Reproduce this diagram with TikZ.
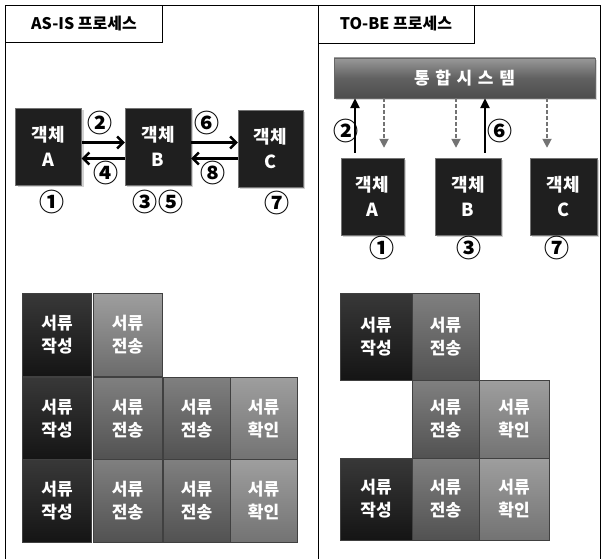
\documentclass[tikz,border=0pt]{standalone}
\usepackage{fontspec}
\setmainfont{Noto Sans CJK KR}
\usetikzlibrary{arrows.meta}
\usetikzlibrary{shadows}

\tikzset{
  obj/.style={fill=black!88, draw=black!55, minimum width=66pt, minimum height=77pt,
    text=white, align=center, inner sep=0pt, font=\fontsize{18}{25}\selectfont\bfseries,
    drop shadow={shadow xshift=2pt, shadow yshift=-2pt, fill=black!35}},
  num/.style={font=\fontsize{25}{25}\selectfont\bfseries, inner sep=0pt},
  title/.style={font=\fontsize{16}{16}\selectfont\bfseries},
  cell/.style={minimum width=69pt, minimum height=83pt, text=white, align=center,
    draw=black!75, inner sep=0pt, font=\fontsize{17}{23}\selectfont\bfseries},
  writecell/.style={cell, top color=black!78, bottom color=black!92},
  sendcell/.style={cell, top color=black!50, bottom color=black!68},
  checkcell/.style={cell, top color=black!38, bottom color=black!55},
  flow/.style={line width=2.6pt, -{Straight Barb[length=6pt,width=12pt,line width=2.4pt]}},
  uplink/.style={line width=2.4pt, -{Triangle[length=10pt,width=9pt]}},
  downlink/.style={line width=1.8pt, black!55, dash pattern=on 4pt off 2pt,
    -{Triangle[length=9pt,width=9pt]}}
}

\begin{document}
\begin{tikzpicture}[x=1pt,y=-1pt]
    \useasboundingbox (0,0) rectangle (604,559);

    %frame
    \draw [line width=0.8pt] (5,559) -- (5,5) -- (600,5) -- (600,559);
    \draw [line width=0.8pt] (318,5) -- (318,559);
    \draw [line width=0.6pt] (5,42) -| (162,5);
    \draw [line width=0.6pt] (318,43) -| (474,5);
    \node [title] (asTitle) at (84,24) {AS-IS 프로세스};
    \node [title] (tbTitle) at (396,24) {TO-BE 프로세스};

    %AS-IS objects
    \node [obj] (asA) at (48.5,146.5) {객체\\A};
    \node [obj] (asB) at (158,146.5) {객체\\B};
    \node [obj, minimum width=65pt] (asC) at (270.5,148.5) {객체\\C};

    \draw [flow] ([yshift=4pt]asA.east) -- ([yshift=4pt]asB.west);
    \draw [flow] ([yshift=-12pt]asB.west) -- ([yshift=-12pt]asA.east);
    \draw [flow] ([yshift=4pt]asB.east) -- ([yshift=6pt]asC.west);
    \draw [flow] ([yshift=-10pt]asC.west) -- ([yshift=-12pt]asB.east);

    \node [num] (n2) at (100,123) {②};
    \node [num] (n4) at (106,173) {④};
    \node [num] (n6) at (207,123) {⑥};
    \node [num] (n8) at (213,173) {⑧};
    \node [num] (n1) at (52,202) {①};
    \node [num] (n3) at (145,202) {③};
    \node [num] (n5) at (171,202) {⑤};
    \node [num] (n7) at (277,203) {⑦};

    %TO-BE objects
    \node [minimum width=261pt, minimum height=40pt, draw=black!60,
      top color=black!40, bottom color=black!70, middle color=black!62,
      text=white, font=\fontsize{17}{17}\selectfont\bfseries,
      drop shadow={shadow xshift=2pt, shadow yshift=-2pt, fill=black!30}]
      (sys) at (464.5,78) {통\,\,합\,\,시\,\,스\,\,템};

    \node [obj, minimum width=63pt] (tbA) at (372.5,196.5) {객체\\A};
    \node [obj] (tbB) at (468,196.5) {객체\\B};
    \node [obj, minimum width=67pt] (tbC) at (563.5,196.5) {객체\\C};

    \draw [uplink] ([xshift=-17.5pt,yshift=5pt]tbA.north) -- ([xshift=-17.5pt]tbA.north |- sys.south);
    \draw [downlink] ([xshift=11.5pt]tbA.north |- sys.south) -- ([xshift=11.5pt,yshift=10pt]tbA.north);
    \draw [downlink] ([xshift=-12pt]tbB.north |- sys.south) -- ([xshift=-12pt,yshift=10pt]tbB.north);
    \draw [uplink] ([xshift=17pt,yshift=5pt]tbB.north) -- ([xshift=17pt]tbB.north |- sys.south);
    \draw [downlink] ([xshift=-16.5pt]tbC.north |- sys.south) -- ([xshift=-16.5pt,yshift=10pt]tbC.north);

    \node [num] (m2) at (346,131) {②};
    \node [num] (m6) at (500,131) {⑥};
    \node [num] (m1) at (382,248) {①};
    \node [num] (m3) at (469,248) {③};
    \node [num] (m7) at (557,248) {⑦};

    %AS-IS documents
    \node [writecell] (as11) at (57,335) {서류\\작성};
    \node [sendcell, top color=black!38, bottom color=black!58] (as12) at (127.5,335) {서류\\전송};
    \node [writecell] (as21) at (57,418.5) {서류\\작성};
    \node [sendcell] (as22) at (127.5,418.5) {서류\\전송};
    \node [sendcell, minimum width=67pt] (as23) at (196.5,418.5) {서류\\전송};
    \node [checkcell, minimum width=67pt] (as24) at (263.5,418.5) {서류\\확인};
    \node [writecell] (as31) at (57,501) {서류\\작성};
    \node [sendcell] (as32) at (127.5,501) {서류\\전송};
    \node [sendcell, minimum width=67pt] (as33) at (196.5,501) {서류\\전송};
    \node [checkcell, minimum width=67pt] (as34) at (263.5,501) {서류\\확인};

    %TO-BE documents
    \node [writecell, minimum width=72pt, minimum height=87pt] (tb11) at (376,336.5) {서류\\작성};
    \node [sendcell, minimum width=67pt, minimum height=87pt] (tb12) at (445.5,336.5) {서류\\전송};
    \node [sendcell, minimum width=67pt, minimum height=78pt] (tb22) at (445.5,419) {서류\\전송};
    \node [checkcell, minimum width=70pt, minimum height=78pt] (tb23) at (514,419) {서류\\확인};
    \node [writecell, minimum width=72pt, minimum height=82pt] (tb31) at (376,499) {서류\\작성};
    \node [sendcell, minimum width=67pt, minimum height=82pt] (tb32) at (445.5,499) {서류\\전송};
    \node [checkcell, minimum width=70pt, minimum height=82pt] (tb33) at (514,499) {서류\\확인};

\end{tikzpicture}
\end{document}
